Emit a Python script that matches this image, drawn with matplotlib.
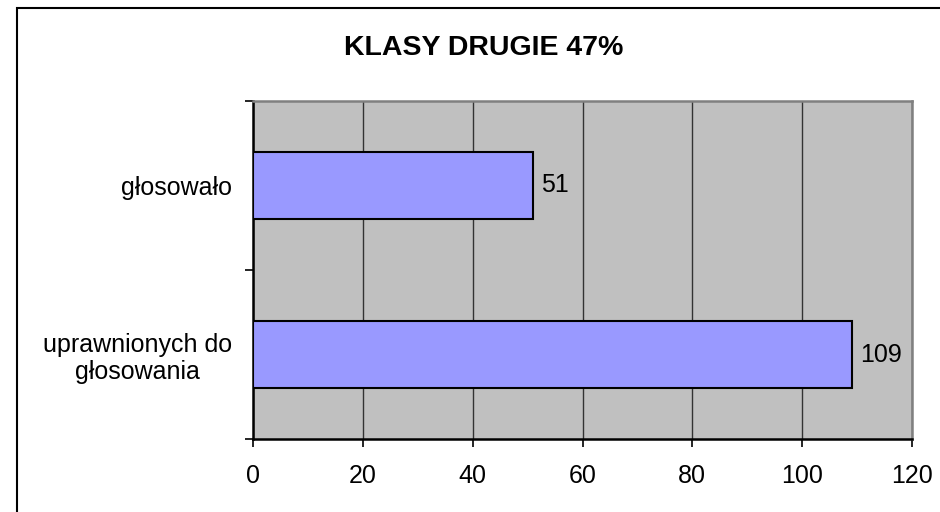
import matplotlib
matplotlib.use("Agg")
import matplotlib.pyplot as plt
from matplotlib.patches import Rectangle

categories = ["uprawnionych do\ngłosowania", "głosowało"]
values = [109, 51]
title = "KLASY DRUGIE 47%"
xticks = [0, 20, 40, 60, 80, 100, 120]

plt.rcParams['font.family'] = ['Liberation Sans', 'DejaVu Sans']

fig = plt.figure(figsize=(9.4, 5.12), dpi=100)
ax = fig.add_axes([253/940, 1-439/512, (912-253)/940, (439-101)/512])
ax.set_facecolor('#C0C0C0')

ypos = list(range(len(categories)))
bars = ax.barh(ypos, values, height=0.4, color='#9999FF', edgecolor='black', linewidth=1.5, zorder=3)
for b, v in zip(bars, values):
    ax.annotate(str(v), (b.get_width(), b.get_y() + b.get_height()/2), xytext=(6, 0),
                textcoords='offset points', va='center', ha='left', fontsize=18, color='black')

ax.set_xlim(0, 120)
ax.set_ylim(-0.5, len(categories) - 0.5)
ax.set_xticks(xticks)
ax.set_xticklabels([str(t) for t in xticks])
ax.xaxis.grid(True, color='#333333', linewidth=1, zorder=1)
ax.set_axisbelow(True)

ax.set_yticks(ypos)
ax.set_yticklabels(categories, fontsize=18, ha='right', multialignment='center', linespacing=1.15)
ax.set_yticks([i - 0.5 for i in range(len(categories) + 1)], minor=True)
ax.tick_params(axis='y', which='major', length=0, pad=15)
ax.tick_params(axis='y', which='minor', length=6, width=1.2, direction='out', color='black')
ax.tick_params(axis='x', which='major', length=6, width=1.2, direction='out', labelsize=18, pad=12, color='black')

for s in ['left', 'bottom']:
    ax.spines[s].set_color('black')
    ax.spines[s].set_linewidth(1.8)
for s in ['top', 'right']:
    ax.spines[s].set_color('#808080')
    ax.spines[s].set_linewidth(1.8)

fig.text(484/940, 1-48/512, title, ha='center', va='center', fontsize=20.5, fontweight='bold')

fig.patches.append(Rectangle((17/940, -0.1), 1.2, 1-8/512+0.1, transform=fig.transFigure,
                             fill=False, edgecolor='black', linewidth=1.5))

fig.savefig('out.png', dpi=100)
